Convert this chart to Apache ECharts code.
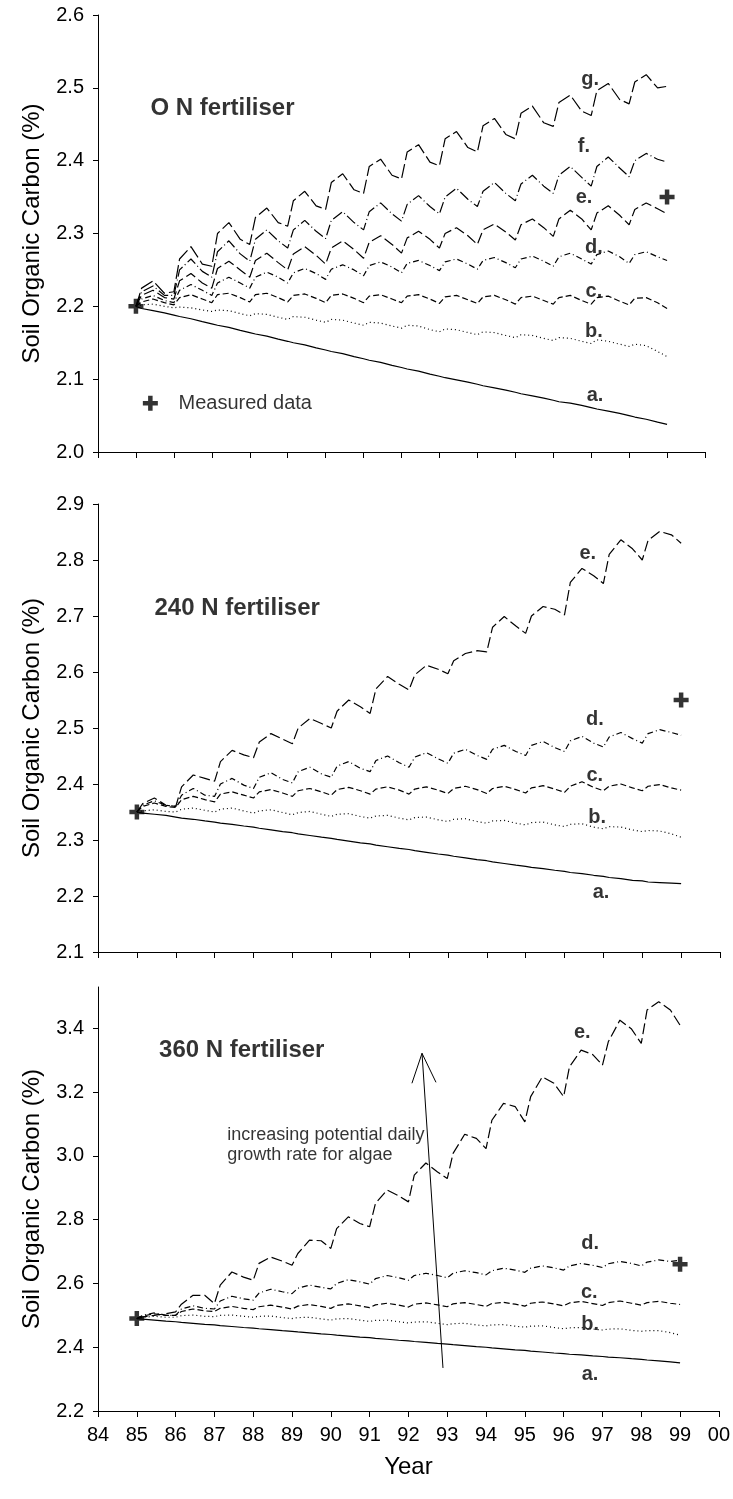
<!DOCTYPE html>
<html><head><meta charset="utf-8">
<script src="https://cdn.jsdelivr.net/npm/echarts@6/dist/echarts.min.js"></script>
<style>html,body{margin:0;padding:0;background:#fff}#c{width:733px;height:1499px}</style>
</head><body><div id="c"></div>
<script>
// sample grid: each year sampled at 4 phases, plus the final point at 99
const years = [85,86,87,88,89,90,91,92,93,94,95,96,97,98];
const phases = [0, 0.15, 0.45, 0.75];
const lastYear = 99;
const xTickLabels = ['84','85','86','87','88','89','90','91','92','93','94','95','96','97','98','99','00'];

// ---------- Panel 1: 0 N fertiliser ----------
const p1_a = [2.200,2.197,2.194,2.191, 2.188,2.186,2.183,2.179, 2.176,2.174,2.171,2.167, 2.164,2.162,2.159,2.155,
  2.152,2.150,2.147,2.143, 2.140,2.138,2.135,2.131, 2.128,2.126,2.123,2.119, 2.116,2.114,2.111,2.107,
  2.104,2.102,2.099,2.096, 2.093,2.091,2.088,2.085, 2.082,2.080,2.077,2.074, 2.071,2.069,2.067,2.064,
  2.061,2.059,2.056,2.053, 2.050,2.048,2.045,2.041, 2.038];
const p1_b = [2.200,2.202,2.203,2.200, 2.198,2.199,2.198,2.195, 2.193,2.195,2.194,2.190, 2.187,2.190,2.189,2.185,
  2.182,2.186,2.185,2.181, 2.178,2.182,2.181,2.177, 2.174,2.178,2.177,2.173, 2.170,2.174,2.173,2.168,
  2.165,2.169,2.168,2.164, 2.161,2.165,2.164,2.160, 2.157,2.161,2.160,2.156, 2.153,2.157,2.156,2.152,
  2.149,2.154,2.152,2.148, 2.145,2.148,2.146,2.138, 2.131];
const p1_c = [2.200,2.206,2.210,2.205, 2.202,2.212,2.216,2.210, 2.205,2.216,2.218,2.212, 2.206,2.216,2.218,2.212,
  2.206,2.215,2.217,2.211, 2.205,2.215,2.217,2.211, 2.205,2.214,2.216,2.210, 2.205,2.214,2.216,2.210,
  2.204,2.213,2.215,2.209, 2.204,2.213,2.215,2.209, 2.203,2.212,2.214,2.208, 2.203,2.212,2.215,2.208,
  2.203,2.212,2.214,2.207, 2.202,2.211,2.212,2.205, 2.197];
const p1_d = [2.200,2.210,2.215,2.208, 2.205,2.222,2.230,2.222, 2.215,2.232,2.240,2.232, 2.225,2.240,2.247,2.240,
  2.232,2.246,2.252,2.245, 2.237,2.251,2.257,2.250, 2.242,2.256,2.261,2.254, 2.246,2.259,2.263,2.256,
  2.249,2.261,2.265,2.258, 2.251,2.263,2.267,2.260, 2.253,2.265,2.269,2.262, 2.255,2.268,2.273,2.265,
  2.258,2.271,2.276,2.268, 2.259,2.271,2.275,2.268, 2.263];
const p1_e = [2.200,2.215,2.222,2.212, 2.210,2.235,2.245,2.232, 2.225,2.252,2.262,2.250, 2.240,2.263,2.273,2.260,
  2.250,2.272,2.282,2.270, 2.258,2.280,2.290,2.278, 2.266,2.288,2.297,2.285, 2.273,2.294,2.303,2.292,
  2.280,2.300,2.308,2.297, 2.285,2.305,2.313,2.302, 2.291,2.312,2.320,2.308, 2.296,2.320,2.332,2.320,
  2.305,2.328,2.338,2.325, 2.312,2.333,2.342,2.334, 2.327];
const p1_f = [2.200,2.220,2.228,2.215, 2.215,2.250,2.265,2.248, 2.240,2.275,2.290,2.272, 2.262,2.292,2.305,2.290,
  2.280,2.305,2.318,2.303, 2.293,2.318,2.330,2.315, 2.305,2.330,2.342,2.327, 2.317,2.340,2.352,2.337,
  2.327,2.350,2.362,2.347, 2.337,2.358,2.370,2.355, 2.345,2.368,2.380,2.365, 2.355,2.380,2.392,2.377,
  2.365,2.392,2.405,2.390, 2.378,2.400,2.410,2.402, 2.398];
const p1_g = [2.200,2.225,2.235,2.218, 2.220,2.265,2.282,2.258, 2.255,2.300,2.315,2.292, 2.285,2.322,2.335,2.315,
  2.310,2.345,2.358,2.338, 2.333,2.370,2.382,2.360, 2.355,2.392,2.402,2.380, 2.375,2.412,2.422,2.398,
  2.393,2.430,2.440,2.418, 2.412,2.448,2.458,2.436, 2.430,2.465,2.475,2.452, 2.447,2.480,2.490,2.468,
  2.462,2.496,2.506,2.484, 2.478,2.508,2.518,2.500, 2.502];
const p1_measured = [[85, 2.20], [99, 2.35]];

// ---------- Panel 2: 240 N fertiliser ----------
const p2_a = [2.350,2.348,2.346,2.344, 2.341,2.339,2.337,2.334, 2.332,2.330,2.328,2.325, 2.323,2.321,2.318,2.315,
  2.313,2.311,2.308,2.305, 2.303,2.301,2.298,2.295, 2.293,2.291,2.288,2.285, 2.283,2.281,2.278,2.275,
  2.273,2.271,2.268,2.265, 2.263,2.261,2.258,2.255, 2.253,2.251,2.249,2.246, 2.244,2.242,2.240,2.237,
  2.235,2.233,2.231,2.228, 2.227,2.225,2.224,2.223, 2.222];
const p2_b = [2.350,2.352,2.354,2.351, 2.350,2.355,2.357,2.353, 2.350,2.355,2.357,2.352, 2.348,2.352,2.354,2.349,
  2.345,2.349,2.351,2.346, 2.342,2.346,2.347,2.342, 2.339,2.343,2.344,2.339, 2.336,2.340,2.341,2.336,
  2.333,2.337,2.338,2.333, 2.330,2.334,2.335,2.330, 2.327,2.331,2.332,2.327, 2.324,2.328,2.329,2.323,
  2.320,2.324,2.323,2.318, 2.315,2.317,2.316,2.311, 2.305];
const p2_c = [2.350,2.360,2.366,2.360, 2.358,2.372,2.378,2.372, 2.368,2.382,2.386,2.380, 2.375,2.386,2.390,2.384,
  2.378,2.388,2.392,2.386, 2.380,2.390,2.394,2.388, 2.382,2.391,2.395,2.389, 2.382,2.391,2.395,2.389,
  2.383,2.392,2.396,2.390, 2.383,2.392,2.396,2.390, 2.384,2.393,2.397,2.391, 2.385,2.396,2.404,2.394,
  2.388,2.396,2.400,2.393, 2.388,2.396,2.399,2.393, 2.389];
const p2_d = [2.350,2.362,2.370,2.362, 2.360,2.380,2.392,2.380, 2.378,2.400,2.410,2.398, 2.392,2.412,2.420,2.408,
  2.402,2.422,2.430,2.418, 2.412,2.432,2.440,2.428, 2.422,2.442,2.450,2.438, 2.430,2.448,2.456,2.445,
  2.437,2.455,2.462,2.451, 2.444,2.462,2.469,2.458, 2.451,2.469,2.476,2.465, 2.458,2.477,2.485,2.473,
  2.466,2.484,2.492,2.481, 2.473,2.490,2.497,2.492, 2.487];
const p2_e = [2.350,2.365,2.375,2.362, 2.360,2.395,2.416,2.410, 2.405,2.440,2.460,2.452, 2.447,2.475,2.490,2.480,
  2.472,2.500,2.517,2.508, 2.500,2.530,2.550,2.538, 2.526,2.570,2.592,2.578, 2.568,2.595,2.612,2.605,
  2.597,2.620,2.633,2.638, 2.636,2.680,2.699,2.682, 2.669,2.700,2.717,2.712, 2.702,2.760,2.785,2.772,
  2.758,2.810,2.836,2.820, 2.800,2.835,2.851,2.845, 2.830];
const p2_measured = [[85, 2.35], [99, 2.55]];

// ---------- Panel 3: 360 N fertiliser ----------
const p3_a = [2.490,2.488,2.485,2.482, 2.480,2.478,2.475,2.472, 2.470,2.468,2.465,2.462, 2.460,2.458,2.455,2.452,
  2.450,2.448,2.445,2.442, 2.440,2.438,2.435,2.432, 2.430,2.428,2.425,2.422, 2.420,2.418,2.415,2.412,
  2.410,2.408,2.405,2.402, 2.400,2.398,2.395,2.392, 2.390,2.388,2.385,2.382, 2.380,2.378,2.376,2.373,
  2.371,2.369,2.367,2.364, 2.362,2.360,2.357,2.354, 2.351];
const p3_b = [2.490,2.494,2.497,2.494, 2.494,2.499,2.501,2.497, 2.496,2.500,2.501,2.497, 2.494,2.497,2.498,2.493,
  2.490,2.493,2.494,2.489, 2.485,2.489,2.490,2.485, 2.481,2.484,2.485,2.480, 2.476,2.479,2.480,2.475,
  2.471,2.474,2.475,2.470, 2.467,2.470,2.471,2.466, 2.463,2.466,2.467,2.462, 2.458,2.461,2.462,2.457,
  2.454,2.457,2.458,2.453, 2.450,2.452,2.452,2.446, 2.438];
const p3_c = [2.490,2.498,2.505,2.500, 2.500,2.512,2.520,2.514, 2.512,2.522,2.528,2.522, 2.518,2.527,2.532,2.526,
  2.520,2.529,2.534,2.528, 2.522,2.531,2.536,2.530, 2.524,2.533,2.538,2.532, 2.526,2.535,2.539,2.533,
  2.527,2.536,2.540,2.534, 2.528,2.537,2.541,2.535, 2.529,2.538,2.542,2.536, 2.530,2.539,2.544,2.537,
  2.531,2.540,2.545,2.538, 2.532,2.540,2.544,2.538, 2.534];
const p3_d = [2.490,2.500,2.508,2.500, 2.500,2.520,2.530,2.522, 2.520,2.545,2.560,2.552, 2.548,2.570,2.582,2.574,
  2.568,2.585,2.595,2.588, 2.583,2.600,2.612,2.605, 2.598,2.615,2.625,2.618, 2.610,2.625,2.632,2.625,
  2.618,2.632,2.640,2.634, 2.627,2.640,2.648,2.642, 2.635,2.648,2.655,2.649, 2.642,2.655,2.663,2.657,
  2.650,2.662,2.669,2.663, 2.655,2.667,2.674,2.669, 2.673];
const p3_e = [2.490,2.495,2.500,2.505, 2.511,2.535,2.563,2.563, 2.537,2.595,2.636,2.620, 2.610,2.663,2.683,2.670,
  2.657,2.694,2.736,2.734, 2.710,2.772,2.809,2.788, 2.778,2.851,2.893,2.875, 2.856,2.940,2.978,2.950,
  2.929,3.008,3.068,3.055, 3.023,3.112,3.165,3.155, 3.107,3.186,3.248,3.228, 3.186,3.280,3.332,3.318,
  3.285,3.358,3.426,3.398, 3.353,3.458,3.484,3.458, 3.410];
const p3_measured = [[85, 2.49], [99, 2.66]];

// text annotations (data coordinates)
const p1_texts = [
  {t:'O N fertiliser', at:[85.37, 2.472], big:true},
  {t:'g.', at:[96.97, 2.511]}, {t:'f.', at:[96.81, 2.419]}, {t:'e.', at:[96.81, 2.349]},
  {t:'d.', at:[97.07, 2.281]}, {t:'c.', at:[97.07, 2.220]}, {t:'b.', at:[97.07, 2.165]}, {t:'a.', at:[97.10, 2.078]}
];
const p1_legend = {symbolAt:[85.38, 2.067], text:'Measured data', textAt:[86.11, 2.067]};
const p2_texts = [
  {t:'240 N fertiliser', at:[85.44, 2.714], big:true},
  {t:'e.', at:[96.60, 2.812]}, {t:'d.', at:[96.78, 2.516]}, {t:'c.', at:[96.78, 2.416]},
  {t:'b.', at:[96.84, 2.341]}, {t:'a.', at:[96.94, 2.207]}
];
const p3_texts = [
  {t:'360 N fertiliser', at:[85.56, 3.331], big:true},
  {t:'e.', at:[96.48, 3.387]}, {t:'d.', at:[96.68, 2.726]}, {t:'c.', at:[96.66, 2.573]},
  {t:'b.', at:[96.68, 2.470]}, {t:'a.', at:[96.68, 2.316]}
];
const p3_note = {t:'increasing potential daily\ngrowth rate for algae', at:[87.32, 3.034]};
const p3_arrowShaft = [[92.89, 2.335], [92.35, 3.322]];
const p3_arrowHead = [[92.09, 3.228], [92.35, 3.322], [92.71, 3.231]];

// ---------- build ----------
const T = years.flatMap(y => phases.map(p => +(y + p).toFixed(2))).concat([lastYear]);
const FONT = '"Liberation Sans", Arial, sans-serif';
const dashes = {a:'solid', b:[1,3], c:[6,3], d:[6,3,1,3], e:[11,4], f:[11,3,1,3], g:[14,4]};
const plusPath = 'path://M3.5,0H6.5V3.5H10V6.5H6.5V10H3.5V6.5H0V3.5H3.5Z';

function lineSeries(gi, key, vals) {
  return {type:'line', xAxisIndex:gi, yAxisIndex:gi, data: vals.map((v,i)=>[T[i], v]),
    showSymbol:false, symbol:'none', smooth:false, silent:true, animation:false,
    lineStyle:{color:'#000', width:1.2, type:dashes[key]}, z:3};
}
function measSeries(gi, pts) {
  return {type:'scatter', xAxisIndex:gi, yAxisIndex:gi, data:pts, symbol:plusPath, symbolSize:15,
    itemStyle:{color:'#000'}, silent:true, animation:false, z:5};
}
function textSeries(gi, items) {
  return {type:'scatter', xAxisIndex:gi, yAxisIndex:gi, symbolSize:1, silent:true, animation:false,
    itemStyle:{color:'rgba(0,0,0,0)'}, z:6,
    data: items.map(it => ({value:it.at, name:it.t,
      label:{show:true, formatter:'{b}', position: it.big ? 'right' : 'inside', distance:0,
        color:'#000', fontFamily:FONT, fontWeight:'bold', fontSize: it.big ? 24 : 20,
        align: it.big ? 'left' : 'center', verticalAlign:'middle'}}))};
}

const grids = [
  {left:98, top:15, width:607, height:437},
  {left:98, top:504, width:622, height:448},
  {left:98, top:987, width:627, height:424}
];
const yRanges = [[2.0, 2.6, 0.1], [2.1, 2.9, 0.1], [2.2, 3.53, 0.2]];

const axisLineStyle = {show:true, lineStyle:{color:'#000', width:1}};
const xAxes = grids.map((g, i) => ({
  type:'value', gridIndex:i, min:84, max:100, interval:1,
  axisLine:Object.assign({onZero:false}, axisLineStyle),
  axisTick:{show:true, inside:false, length:6, lineStyle:{color:'#000'}},
  splitLine:{show:false},
  axisLabel: i === 2 ? {show:true, margin:14, fontSize:20, fontFamily:FONT, color:'#000',
    showMinLabel:true, showMaxLabel:true, formatter: v => xTickLabels[Math.round(v) - 84]} : {show:false},
  name: i === 2 ? 'Year' : '', nameLocation:'middle', nameGap:44,
  nameTextStyle:{fontSize:24, fontFamily:FONT, color:'#000'}
}));
const yAxes = yRanges.map((r, i) => {
  const ticks = [];
  for (let v = r[0]; v <= (i === 2 ? 3.4 : r[1]) + 1e-9; v += r[2]) ticks.push(+v.toFixed(1));
  return {
    type:'value', gridIndex:i, min:r[0], max:r[1], interval:r[2],
    axisLine:Object.assign({onZero:false}, axisLineStyle),
    axisTick:{show:true, length:5, lineStyle:{color:'#000'}, customValues:ticks},
    splitLine:{show:false},
    axisLabel:{margin:14, fontSize:20, fontFamily:FONT, color:'#000', customValues:ticks,
      formatter: v => (+v).toFixed(1)},
    name:'Soil Organic Carbon (%)', nameLocation:'middle', nameGap:54,
    nameTextStyle:{fontSize:24, fontFamily:FONT, color:'#000'}
  };
});

const series = [];
[['a',p1_a],['b',p1_b],['c',p1_c],['d',p1_d],['e',p1_e],['f',p1_f],['g',p1_g]].forEach(([k,v]) => series.push(lineSeries(0,k,v)));
[['a',p2_a],['b',p2_b],['c',p2_c],['d',p2_d],['e',p2_e]].forEach(([k,v]) => series.push(lineSeries(1,k,v)));
[['a',p3_a],['b',p3_b],['c',p3_c],['d',p3_d],['e',p3_e]].forEach(([k,v]) => series.push(lineSeries(2,k,v)));
series.push(measSeries(0, p1_measured.concat([p1_legend.symbolAt])));
series.push(measSeries(1, p2_measured));
series.push(measSeries(2, p3_measured));
series.push(textSeries(0, p1_texts));
series.push(textSeries(1, p2_texts));
series.push(textSeries(2, p3_texts));
series.push({type:'scatter', xAxisIndex:0, yAxisIndex:0, symbolSize:1, silent:true, animation:false,
  itemStyle:{color:'rgba(0,0,0,0)'},
  data:[{value:p1_legend.textAt, name:p1_legend.text}],
  label:{show:true, formatter:'{b}', position:'right', distance:0, color:'#000', fontFamily:FONT, fontSize:20,
    align:'left', verticalAlign:'middle'}});
series.push({type:'scatter', xAxisIndex:2, yAxisIndex:2, symbolSize:1, silent:true, animation:false,
  itemStyle:{color:'rgba(0,0,0,0)'},
  data:[{value:p3_note.at, name:p3_note.t}],
  label:{show:true, formatter:'{b}', position:'right', distance:0, color:'#000', fontFamily:FONT, fontSize:18,
    lineHeight:20, align:'left', verticalAlign:'middle'}});
series.push({type:'line', xAxisIndex:2, yAxisIndex:2, data:p3_arrowShaft, showSymbol:false, symbol:'none',
  silent:true, animation:false, lineStyle:{color:'#000', width:1}, z:4});
series.push({type:'line', xAxisIndex:2, yAxisIndex:2, data:p3_arrowHead, showSymbol:false, symbol:'none',
  silent:true, animation:false, lineStyle:{color:'#000', width:1}, z:4});

const chart = echarts.init(document.getElementById('c'), null, {renderer:'canvas'});
chart.setOption({
  animation:false, backgroundColor:'#fff',
  textStyle:{fontFamily:FONT},
  grid:grids, xAxis:xAxes, yAxis:yAxes, series:series
});
</script>
</body></html>
